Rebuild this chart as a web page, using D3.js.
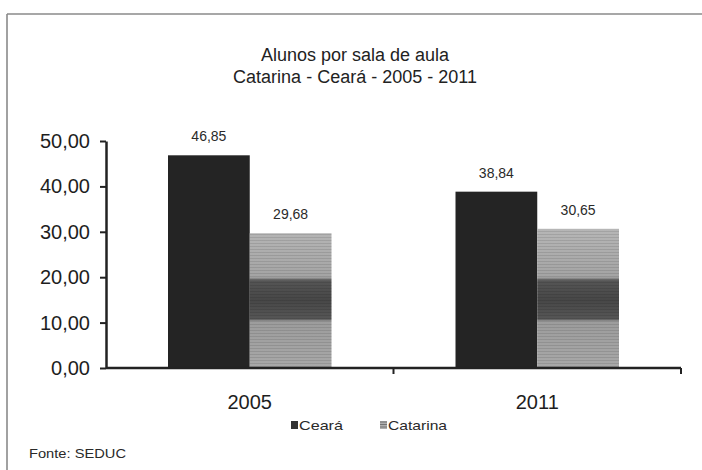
<!DOCTYPE html>
<html><head><meta charset="utf-8">
<script src="https://cdn.jsdelivr.net/npm/d3@7"></script>
<style>
html,body{margin:0;padding:0;background:#fff;}
svg{display:block;font-family:"Liberation Sans",Arial,sans-serif;}
</style></head>
<body>
<svg id="c" width="702" height="470"></svg>
<script>
const categories = ["2005", "2011"];
const seriesNames = ["Ceará", "Catarina"];
const ceara = [46.85, 38.84];
const catarina = [29.68, 30.65];
const yTicks = [0, 10, 20, 30, 40, 50];
const valueLabels = [["46,85", "38,84"], ["29,68", "30,65"]];
const titleLines = ["Alunos por sala de aula", "Catarina - Ceará - 2005 - 2011"];
const sourceText = "Fonte: SEDUC";

const FONT = "'Liberation Sans', Arial, sans-serif";
const svg = d3.select("#c");
const defs = svg.append("defs");

// frame
svg.append("line").attr("x1", 7).attr("y1", 14).attr("x2", 702).attr("y2", 14)
  .attr("stroke", "#8a8a8a").attr("stroke-width", 1.6);
svg.append("line").attr("x1", 7).attr("y1", 14).attr("x2", 7).attr("y2", 470)
  .attr("stroke", "#8a8a8a").attr("stroke-width", 1.6);

const y = d3.scaleLinear().domain([0, 50]).range([368, 141]);
const x0 = d3.scaleBand().domain(categories).range([106, 681]);
const x1 = d3.scaleBand().domain(seriesNames).range([62, x0.bandwidth() - 62]);

// Catarina fill: gray with a darker band (as in the scan) + fine horizontal lines
const g0 = y(Math.max(...catarina)), g1 = y(0);
const off = v => (y(v) - g0) / (g1 - g0);
const grad = defs.append("linearGradient").attr("id", "catGrad")
  .attr("gradientUnits", "userSpaceOnUse").attr("x1", 0).attr("x2", 0)
  .attr("y1", g0).attr("y2", g1);
[[0, "#b6b6b6"], [off(20), "#a4a4a4"], [off(19.2), "#555"], [off(15), "#474747"],
 [off(10.8), "#565656"], [off(10.3), "#9c9c9c"], [1, "#a8a8a8"]]
 .forEach(([o, c]) => grad.append("stop").attr("offset", o).attr("stop-color", c));
const pat = defs.append("pattern").attr("id", "catLines").attr("patternUnits", "userSpaceOnUse")
  .attr("width", 6).attr("height", 3);
pat.append("rect").attr("width", 6).attr("height", 1).attr("fill", "#000").attr("opacity", 0.1);

const data = categories.map((c, i) => ({
  cat: c,
  vals: [
    {s: "Ceará", v: ceara[i], lab: valueLabels[0][i]},
    {s: "Catarina", v: catarina[i], lab: valueLabels[1][i]}
  ]
}));

const groups = svg.selectAll("g.grp").data(data).join("g")
  .attr("class", "grp").attr("transform", d => `translate(${x0(d.cat)},0)`);

groups.selectAll("rect.bar").data(d => d.vals).join("rect")
  .attr("class", "bar")
  .attr("x", d => x1(d.s)).attr("width", x1.bandwidth())
  .attr("y", d => y(d.v)).attr("height", d => y(0) - y(d.v))
  .attr("fill", d => d.s === "Ceará" ? "#242424" : "url(#catGrad)");
groups.selectAll("rect.ov").data(d => d.vals.filter(v => v.s === "Catarina")).join("rect")
  .attr("class", "ov")
  .attr("x", d => x1(d.s)).attr("width", x1.bandwidth())
  .attr("y", d => y(d.v)).attr("height", d => y(0) - y(d.v))
  .attr("fill", "url(#catLines)");

groups.selectAll("text.val").data(d => d.vals).join("text")
  .attr("class", "val")
  .attr("x", d => x1(d.s) + x1.bandwidth() / 2)
  .attr("y", d => y(d.v) - 14)
  .attr("text-anchor", "middle").attr("font-size", 14).attr("fill", "#2a2a2a")
  .attr("font-family", FONT)
  .text(d => d.lab);

// y axis
const yAxis = svg.append("g").attr("transform", "translate(106,0)")
  .call(d3.axisLeft(y).tickValues(yTicks).tickSize(6).tickSizeOuter(0).tickPadding(10)
    .tickFormat(d => d3.format(".2f")(d).replace(".", ",")));
yAxis.select(".domain").attr("stroke", "#222").attr("stroke-width", 2.5);
yAxis.selectAll(".tick line").attr("stroke", "#222").attr("stroke-width", 2);
yAxis.selectAll(".tick text").attr("font-size", 20).attr("fill", "#1e1e1e")
  .attr("font-family", FONT);

// x axis
const xAxis = svg.append("g").attr("transform", `translate(0,${y(0)})`)
  .call(d3.axisBottom(x0).tickSize(0).tickPadding(27));
xAxis.select(".domain").attr("stroke", "#222").attr("stroke-width", 2.5)
  .attr("d", `M106,0H681`);
xAxis.selectAll(".tick text").attr("font-size", 20).attr("fill", "#1e1e1e")
  .attr("font-family", FONT);
const bounds = [x0.range()[0], x0(categories[1]), x0.range()[1]];
xAxis.selectAll("line.bt").data(bounds.slice(1)).join("line").attr("class", "bt")
  .attr("x1", d => d).attr("x2", d => d).attr("y1", 0).attr("y2", 6)
  .attr("stroke", "#222").attr("stroke-width", 2);

// title
svg.selectAll("text.title").data(titleLines).join("text").attr("class", "title")
  .attr("x", 355).attr("y", (d, i) => 61 + i * 21.5)
  .attr("text-anchor", "middle").attr("font-size", 18).attr("fill", "#222")
  .attr("font-family", FONT)
  .text(d => d);

// legend
const leg = svg.append("g").attr("font-size", 13).attr("fill", "#2a2a2a").attr("font-family", FONT);
const legX = [291, 380];
seriesNames.forEach((s, i) => {
  leg.append("rect").attr("x", legX[i]).attr("y", 421).attr("width", 7).attr("height", 8)
    .attr("fill", i === 0 ? "#333" : "#b0b0b0");
  if (i === 1) {
    [1, 3.5, 6].forEach(dy => leg.append("line").attr("x1", legX[i]).attr("x2", legX[i] + 7)
      .attr("y1", 421 + dy).attr("y2", 421 + dy).attr("stroke", "#666").attr("stroke-width", 0.8));
  }
  leg.append("text").attr("x", legX[i] + 8).attr("y", 430)
    .attr("textLength", i === 0 ? 44 : 59).attr("lengthAdjust", "spacingAndGlyphs")
    .text(s);
});

svg.append("text").attr("x", 29).attr("y", 458).attr("font-size", 13).attr("fill", "#2a2a2a")
  .attr("font-family", FONT)
  .attr("textLength", 97).attr("lengthAdjust", "spacingAndGlyphs").text(sourceText);
</script>
</body></html>
